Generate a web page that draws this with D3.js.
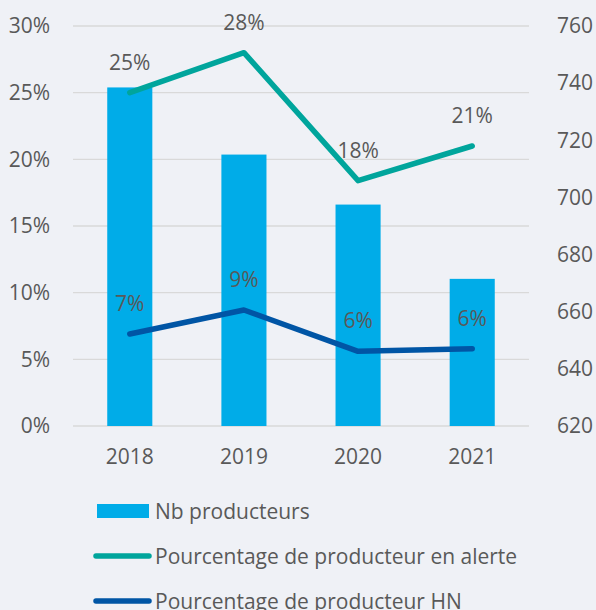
<!DOCTYPE html>
<html><head><meta charset="utf-8">
<script src="https://cdn.jsdelivr.net/npm/d3@7"></script>
<style>
html,body{margin:0;padding:0;background:#eff1f6;}
svg{display:block;}
text{font-family:"Open Sans",sans-serif;fill:#595959;}
</style></head><body>
<svg id="c" width="596" height="610"></svg>
<script>
const years = ["2018","2019","2020","2021"];
const nbProducteurs = [738.5, 715, 697.5, 671.5];
const pctAlerte = [0.250, 0.280, 0.184, 0.210];
const pctHN = [0.069, 0.087, 0.056, 0.058];
const leftTicks = [0,0.05,0.10,0.15,0.20,0.25,0.30];
const rightTicks = [620,640,660,680,700,720,740,760];
const legendLabels = ["Nb producteurs","Pourcentage de producteur en alerte","Pourcentage de producteur HN"];

const colBar = "#00ace8", colAlerte = "#00a59c", colHN = "#0055a5";
const svg = d3.select("#c");
const L = 73, R = 529, T = 26, B = 426;
const x = d3.scaleBand().domain(years).range([L, R]).paddingInner(0.605).paddingOuter(0.3);
const yL = d3.scaleLinear().domain([0, 0.30]).range([B, T]);
const yR = d3.scaleLinear().domain([620, 760]).range([B, T]);

// grid
svg.append("g").selectAll("line").data(leftTicks).join("line")
  .attr("x1", L).attr("x2", R).attr("y1", d => yL(d)).attr("y2", d => yL(d))
  .attr("stroke", "#d9d9d9").attr("stroke-width", 1.3);

// axes
const axL = svg.append("g").attr("transform", `translate(${L},0)`)
  .call(d3.axisLeft(yL).tickValues(leftTicks).tickFormat(d3.format(".0%")).tickSize(0).tickPadding(23));
const axR = svg.append("g").attr("transform", `translate(${R},0)`)
  .call(d3.axisRight(yR).tickValues(rightTicks).tickSize(0).tickPadding(28));
const axB = svg.append("g").attr("transform", `translate(0,${B})`)
  .call(d3.axisBottom(x).tickSize(0).tickPadding(23));
[axL, axR, axB].forEach(a => {
  a.select(".domain").remove();
  a.selectAll("text").style("font-size", "21px").style("font-family", "'Open Sans',sans-serif").attr("fill", "#595959");
});

// bars
svg.append("g").selectAll("rect").data(years).join("rect")
  .attr("x", d => x(d)).attr("width", x.bandwidth())
  .attr("y", (d, i) => yR(nbProducteurs[i]))
  .attr("height", (d, i) => yR(620) - yR(nbProducteurs[i]))
  .attr("fill", colBar);

// lines
const cx = d => x(d) + x.bandwidth() / 2;
function drawLine(vals, col) {
  const line = d3.line().x((d, i) => cx(years[i])).y(d => yL(d));
  svg.append("path").datum(vals).attr("d", line)
    .attr("fill", "none").attr("stroke", col).attr("stroke-width", 5.5)
    .attr("stroke-linecap", "round").attr("stroke-linejoin", "round");
  svg.append("g").selectAll("text").data(vals).join("text")
    .attr("x", (d, i) => cx(years[i])).attr("y", d => yL(d) - 31)
    .attr("text-anchor", "middle").attr("dominant-baseline", "central")
    .style("font-size", "21px").text(d => d3.format(".0%")(d));
}
drawLine(pctAlerte, colAlerte);
drawLine(pctHN, colHN);

// legend
const lg = svg.append("g");
const ly = [511, 556, 601];
lg.append("rect").attr("x", 97).attr("y", ly[0] - 7).attr("width", 52).attr("height", 14).attr("fill", colBar);
lg.append("line").attr("x1", 96).attr("x2", 149).attr("y1", ly[1]).attr("y2", ly[1])
  .attr("stroke", colAlerte).attr("stroke-width", 5.5).attr("stroke-linecap", "round");
lg.append("line").attr("x1", 96).attr("x2", 149).attr("y1", ly[2]).attr("y2", ly[2])
  .attr("stroke", colHN).attr("stroke-width", 5.5).attr("stroke-linecap", "round");
lg.selectAll("text").data(legendLabels).join("text")
  .attr("x", 155).attr("y", (d, i) => ly[i]).attr("dominant-baseline", "central")
  .style("font-size", "21px").text(d => d);
</script>
</body></html>
